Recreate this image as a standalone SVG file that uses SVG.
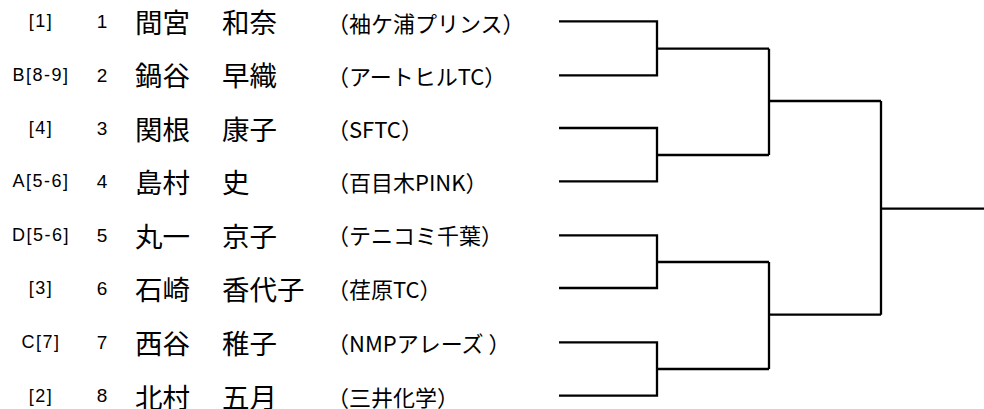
<svg xmlns="http://www.w3.org/2000/svg" width="984" height="409" viewBox="0 0 984 409">
<style>
.seed{font-family:"Liberation Sans","Noto Sans CJK JP",sans-serif;font-size:18px;letter-spacing:1.5px;text-anchor:middle;dominant-baseline:central;fill:#000}
.num{font-family:"Liberation Sans","Noto Sans CJK JP",sans-serif;font-size:19px;text-anchor:middle;dominant-baseline:central;fill:#000}
.name{font-family:"Noto Sans CJK JP",sans-serif;font-size:27.5px;dominant-baseline:central;fill:#000}
.team{font-family:"Noto Sans CJK JP",sans-serif;font-size:22px;dominant-baseline:central;fill:#000}
.ln{fill:none;stroke:#000;stroke-width:2.3;stroke-linejoin:miter;stroke-linecap:butt}
</style>
<rect width="984" height="409" fill="#fff"/>
<g id="p1"><text class="seed" x="41" y="21.3">[1]</text><text class="num" x="102" y="21.3">1</text><text class="name" x="135" y="21">間宮</text><text class="name" x="222" y="21">和奈</text><text class="team" x="327" y="21.8">（袖ケ浦プリンス）</text></g>
<g id="p2"><text class="seed" x="41" y="75.3">B[8-9]</text><text class="num" x="102" y="75.3">2</text><text class="name" x="135" y="74">鍋谷</text><text class="name" x="222" y="74">早織</text><text class="team" x="327" y="75">（アートヒルTC）</text></g>
<g id="p3"><text class="seed" x="41" y="128">[4]</text><text class="num" x="102" y="128">3</text><text class="name" x="135" y="128">関根</text><text class="name" x="222" y="128">康子</text><text class="team" x="327" y="128">（SFTC）</text></g>
<g id="p4"><text class="seed" x="41" y="181.3">A[5-6]</text><text class="num" x="102" y="181.3">4</text><text class="name" x="135" y="181.3">島村</text><text class="name" x="222" y="181.3">史</text><text class="team" x="327" y="181.3">（百目木PINK）</text></g>
<g id="p5"><text class="seed" x="41" y="235.3">D[5-6]</text><text class="num" x="102" y="235.3">5</text><text class="name" x="135" y="235">丸一</text><text class="name" x="222" y="235">京子</text><text class="team" x="327" y="234">（テニコミ千葉）</text></g>
<g id="p6"><text class="seed" x="41" y="288">[3]</text><text class="num" x="102" y="288">6</text><text class="name" x="135" y="287.5">石崎</text><text class="name" x="222" y="287.5">香代子</text><text class="team" x="327" y="288">（荏原TC）</text></g>
<g id="p7"><text class="seed" x="41" y="342.3">C[7]</text><text class="num" x="102" y="342.3">7</text><text class="name" x="135" y="342.3">西谷</text><text class="name" x="222" y="342.3">稚子</text><text class="team" x="327" y="342.3">（NMPアレーズ ）</text></g>
<g id="p8"><text class="seed" x="41" y="395.7">[2]</text><text class="num" x="102" y="395.7">8</text><text class="name" x="135" y="395.5">北村</text><text class="name" x="222" y="395.5">五月</text><text class="team" x="327" y="395.7">（三井化学）</text></g>
<g id="connectors">
<path class="ln" d="M559 21.3H657V75.3H559M657 48.7H769"/>
<path class="ln" d="M559 128H657V181.3H559M657 155H769"/>
<path class="ln" d="M559 235.3H657V288H559M657 262H769"/>
<path class="ln" d="M559 342.3H657V395.7H559M657 369H769"/>
<path class="ln" d="M769 48.7V155M769 101H881"/>
<path class="ln" d="M769 262V369M769 314.7H881"/>
<path class="ln" d="M881 101V314.7M881 208.7H984"/>
</g>
</svg>
